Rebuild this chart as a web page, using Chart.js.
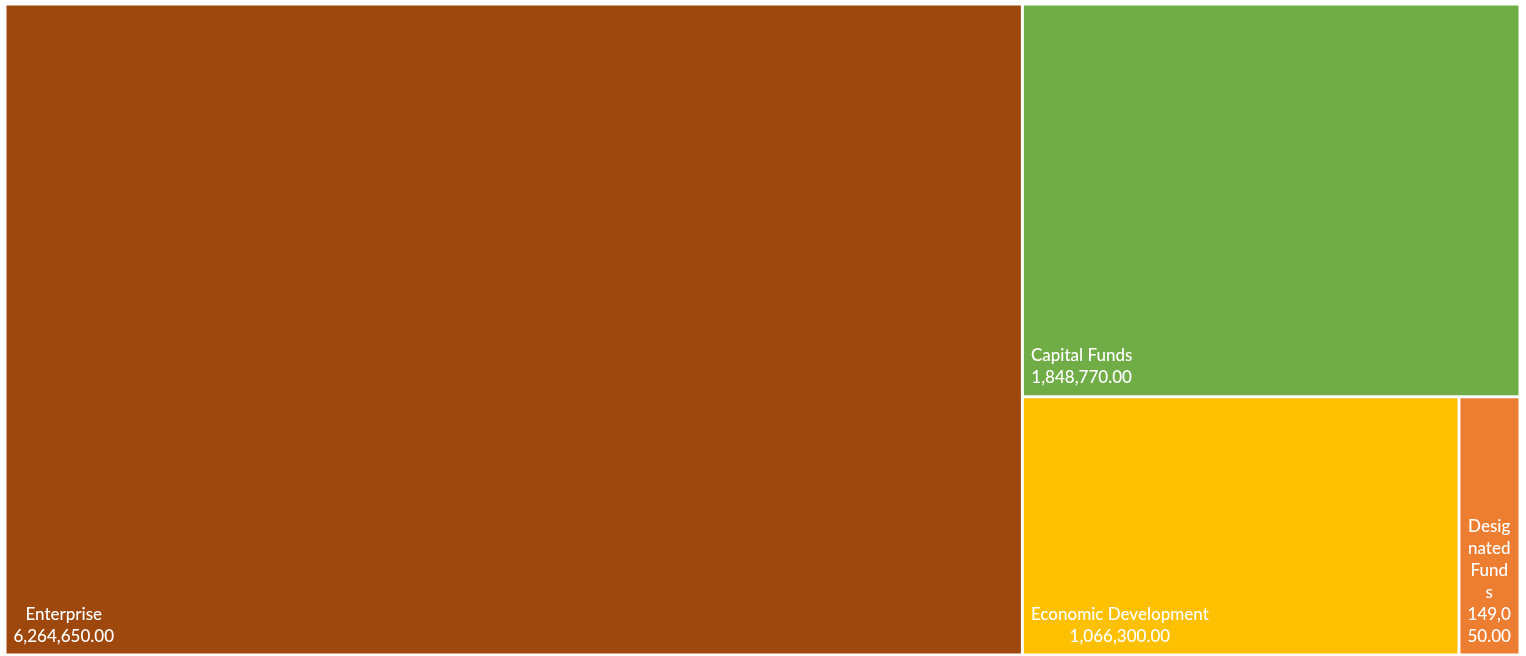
<!DOCTYPE html>
<html>
<head>
<meta charset="utf-8">
<script src="https://cdn.jsdelivr.net/npm/chart.js@4.4.1/dist/chart.umd.min.js"></script>
<style>
    html, body { margin: 0; padding: 0; background: #ffffff; }
    #wrap { width: 1526px; height: 656px; }
</style>
</head>
<body>
<div id="wrap"><canvas id="chart-treemap"></canvas></div>
<script>
// Datos del treemap
const categorias = ["Enterprise", "Capital Funds", "Economic Development", "Designated Funds"];
const valores = [6264650, 1848770, 1066300, 149050];
const colores = ["#9E480E", "#70AD47", "#FFC000", "#ED7D31"];

// formato 6,264,650.00
function formato(v) {
    return v.toLocaleString("en-US", { minimumFractionDigits: 2, maximumFractionDigits: 2 });
}

// peor relacion de aspecto de una fila (squarify)
function peor(fila, lado) {
    const s = fila.reduce((a, b) => a + b, 0);
    const mx = Math.max(...fila), mn = Math.min(...fila);
    return Math.max((lado * lado * mx) / (s * s), (s * s) / (lado * lado * mn));
}

// layout squarify en unidades de pixel, luego se normaliza a 0..1
function squarify(areas, x, y, w, h, out) {
    let i = 0;
    while (i < areas.length) {
        const lado = Math.min(w, h);
        let fila = [areas[i]];
        let j = i + 1;
        while (j < areas.length && peor(fila.concat(areas[j]), lado) <= peor(fila, lado)) {
            fila.push(areas[j]);
            j++;
        }
        const s = fila.reduce((a, b) => a + b, 0);
        if (w >= h) {
            // columna a la izquierda
            const cw = s / h;
            let cy = y;
            fila.forEach(a => {
                const ch = a / cw;
                out.push({ x: x, y: cy, w: cw, h: ch });
                cy += ch;
            });
            x += cw; w -= cw;
        } else {
            // fila arriba
            const rh = s / w;
            let cx = x;
            fila.forEach(a => {
                const rw = a / rh;
                out.push({ x: cx, y: y, w: rw, h: rh });
                cx += rw;
            });
            y += rh; h -= rh;
        }
        i = j;
    }
    return out;
}

// partir texto en lineas que quepan (por palabra y por letra)
function partirTexto(ctx, texto, ancho) {
    const lineas = [];
    texto.split(" ").forEach(pal => {
        let actual = lineas.length ? lineas.pop() : null;
        const prueba = actual === null ? pal : actual + " " + pal;
        if (ctx.measureText(prueba).width <= ancho) {
            lineas.push(prueba);
            return;
        }
        if (actual !== null) lineas.push(actual);
        let trozo = "";
        for (const c of pal) {
            if (trozo && ctx.measureText(trozo + c).width > ancho) {
                lineas.push(trozo);
                trozo = c;
            } else {
                trozo += c;
            }
        }
        lineas.push(trozo);
    });
    return lineas;
}

const treemapPlugin = {
    id: "treemap",
    beforeDatasetsDraw(chart) {
        const { ctx, chartArea, scales } = chart;
        const ds = chart.data.datasets[0];
        const total = ds.tree.reduce((a, b) => a + b, 0);
        const W = chartArea.right - chartArea.left;
        const H = chartArea.bottom - chartArea.top;
        const areas = ds.tree.map(v => v / total * W * H);
        const rects = squarify(areas, 0, 0, W, H, []);

        ctx.save();
        rects.forEach((r, i) => {
            // a valores 0..1 y luego a pixel por las escalas
            const x0 = scales.x.getPixelForValue(r.x / W);
            const x1 = scales.x.getPixelForValue((r.x + r.w) / W);
            const y0 = scales.y.getPixelForValue(r.y / H);
            const y1 = scales.y.getPixelForValue((r.y + r.h) / H);
            const g = 1.5;
            ctx.fillStyle = ds.backgroundColor[i];
            ctx.fillRect(x0 + g, y0 + g, x1 - x0 - 2 * g, y1 - y0 - 2 * g);

            // etiquetas
            ctx.font = "500 17px Lato, 'Open Sans', sans-serif";
            ctx.fillStyle = "#ffffff";
            ctx.textAlign = "center";
            ctx.textBaseline = "alphabetic";
            const pad = 7;
            const maxW = x1 - x0 - 2 * pad - 2 * g;
            let lineas = partirTexto(ctx, chart.data.labels[i], maxW)
                .concat(partirTexto(ctx, formato(ds.tree[i]), maxW));
            const anchoBloque = Math.max(...lineas.map(l => ctx.measureText(l).width));
            const cx = x0 + g + pad + anchoBloque / 2;
            const lh = 22;
            let by = y1 - g - 12;
            for (let k = lineas.length - 1; k >= 0; k--) {
                ctx.fillText(lineas[k], cx, by);
                by -= lh;
            }
        });
        ctx.restore();
    }
};

const ctx = document.getElementById("chart-treemap").getContext("2d");

new Chart(ctx, {
    type: "scatter",
    data: {
        labels: categorias,
        datasets: [{
            label: "Fondos",
            data: [],
            tree: valores,
            backgroundColor: colores
        }]
    },
    options: {
        responsive: true,
        maintainAspectRatio: false,
        animation: false,
        layout: { padding: { left: 5, top: 4, right: 6, bottom: 1 } },
        scales: {
            x: { type: "linear", min: 0, max: 1, display: false },
            y: { type: "linear", min: 0, max: 1, reverse: true, display: false }
        },
        plugins: {
            legend: { display: false },
            tooltip: { enabled: false }
        }
    },
    plugins: [treemapPlugin]
});
</script>
</body>
</html>
